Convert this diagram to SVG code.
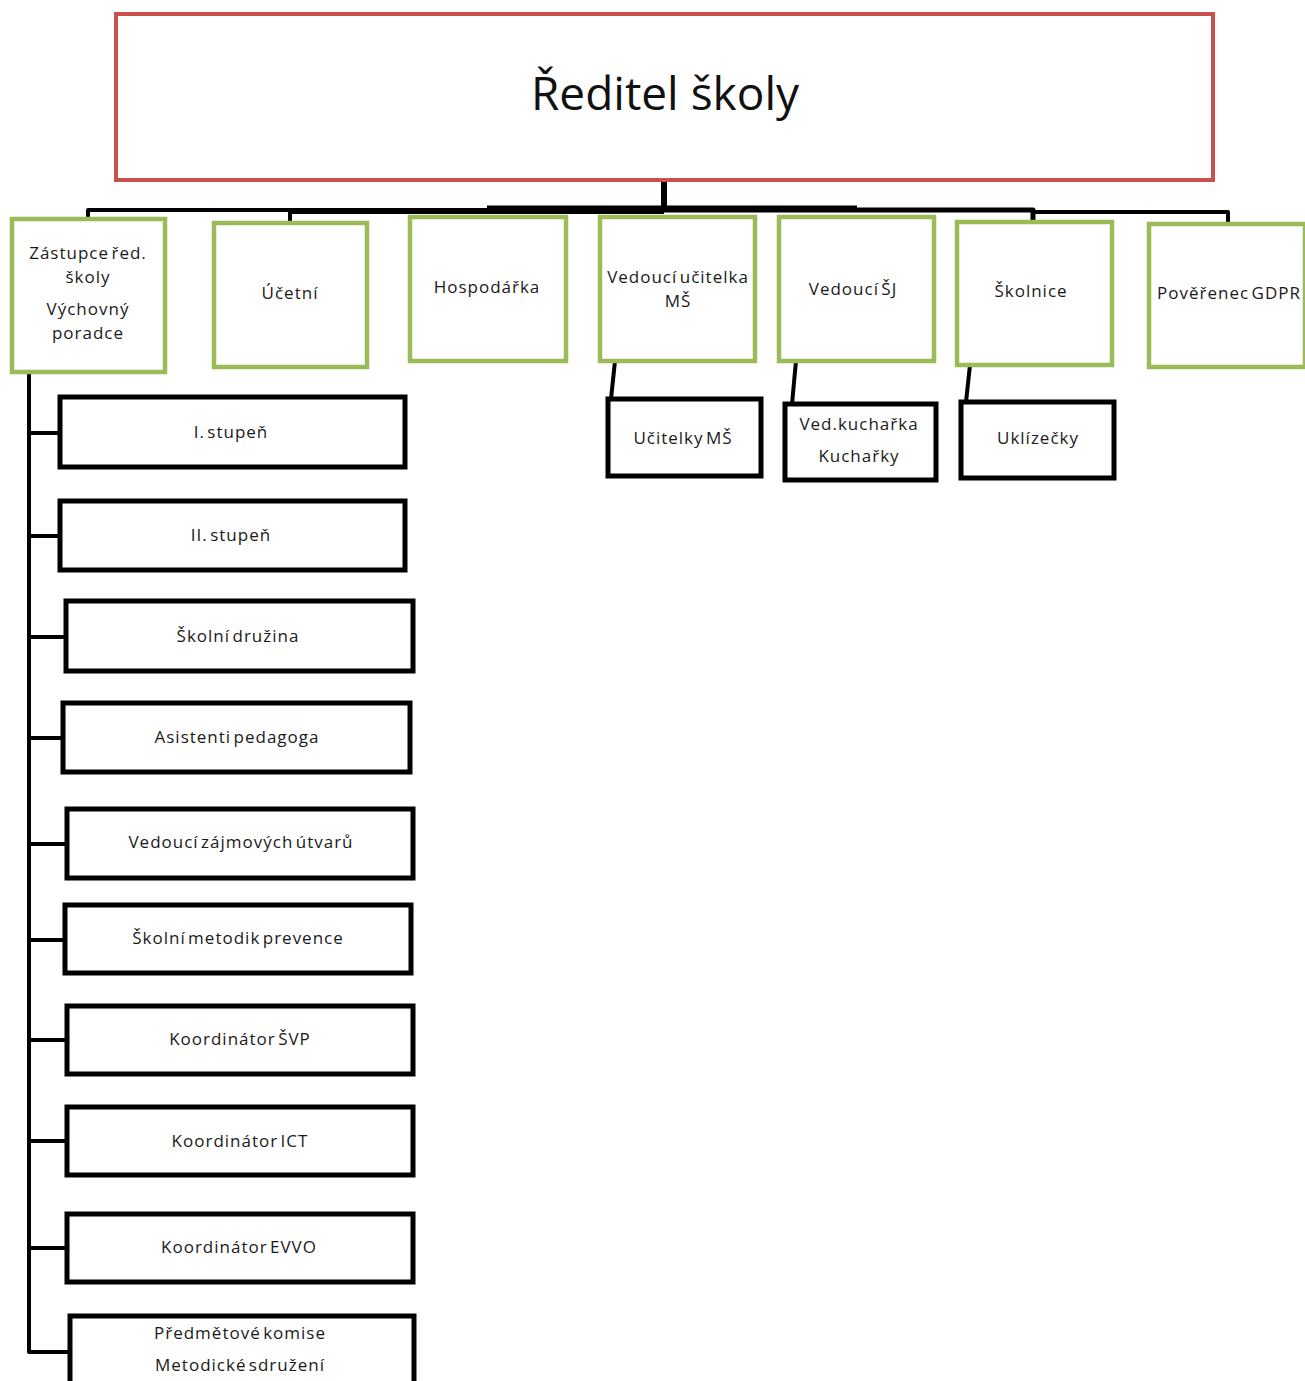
<svg xmlns="http://www.w3.org/2000/svg" width="1305" height="1381" viewBox="0 0 1305 1381">
<style>
  .t { font-family: "Open Sans", "Noto Sans", sans-serif; fill: #1a1a1a; text-anchor: middle; }
  .s { font-size: 17px; letter-spacing: 1px; word-spacing: -3px; }
  .title { font-size: 46px; fill: #111; }
  .red { fill: #fff; stroke: #c9504d; stroke-width: 4; }
  .green { fill: #fff; stroke: #9bbb59; stroke-width: 4.5; }
  .black { fill: #fff; stroke: #000; stroke-width: 5; }
  .ln { fill: none; stroke: #000; stroke-linejoin: round; }
</style>
<rect width="1305" height="1381" fill="#fff"/>
<g id="connectors">
  <path class="ln" stroke-width="6" d="M664 180 V210"/>
  <path class="ln" stroke-width="4" d="M88 218 V210 H290 V223"/>
  <path class="ln" stroke-width="6" d="M290 211 H664"/>
  <path class="ln" stroke-width="7" d="M487 209 H664 H857"/>
  <path class="ln" stroke-width="5" d="M857 210 H1033 V222"/>
  <path class="ln" stroke-width="4" d="M1033 212 H1228 V224"/>
  <path class="ln" stroke-width="4" d="M615 361 L611 399"/>
  <path class="ln" stroke-width="4" d="M796 361 L792 404"/>
  <path class="ln" stroke-width="4" d="M970 365 L966 402"/>
  <path class="ln" stroke-width="4" d="M29 372 V1352 H70"/>
  <path class="ln" stroke-width="4" d="M29 433 H60 M29 536 H60 M29 637 H66 M29 738 H63 M29 844 H67 M29 940 H65 M29 1040 H67 M29 1141 H67 M29 1248 H67"/>
</g>
<g id="reditel">
  <rect class="red" x="116" y="14" width="1097" height="166"/>
  <text class="t title" x="665" y="110">Ředitel školy</text>
</g>
<g id="zastupce">
  <rect class="green" x="12" y="219" width="153" height="153"/>
  <text class="t s" x="88" y="259">Zástupce řed.</text>
  <text class="t s" x="88" y="283">školy</text>
  <text class="t s" x="88" y="315">Výchovný</text>
  <text class="t s" x="88" y="339">poradce</text>
</g>
<g id="ucetni">
  <rect class="green" x="214" y="223" width="153" height="144"/>
  <text class="t s" x="290" y="299">Účetní</text>
</g>
<g id="hospodarka">
  <rect class="green" x="410" y="217" width="156" height="144"/>
  <text class="t s" x="487" y="293">Hospodářka</text>
</g>
<g id="vedouci-ucitelka">
  <rect class="green" x="600" y="217" width="155" height="144"/>
  <text class="t s" x="678" y="283">Vedoucí učitelka</text>
  <text class="t s" x="678" y="307">MŠ</text>
</g>
<g id="vedouci-sj">
  <rect class="green" x="779" y="217" width="155" height="144"/>
  <text class="t s" x="853" y="295">Vedoucí ŠJ</text>
</g>
<g id="skolnice">
  <rect class="green" x="957" y="222" width="155" height="143"/>
  <text class="t s" x="1031" y="297">Školnice</text>
</g>
<g id="gdpr">
  <rect class="green" x="1149" y="224" width="156" height="143"/>
  <text class="t s" x="1229" y="299">Pověřenec GDPR</text>
</g>
<g id="ucitelky-ms">
  <rect class="black" x="608" y="399" width="153" height="77"/>
  <text class="t s" x="683" y="444">Učitelky MŠ</text>
</g>
<g id="kucharky">
  <rect class="black" x="785" y="404" width="151" height="76"/>
  <text class="t s" x="859" y="430">Ved.kuchařka</text>
  <text class="t s" x="859" y="462">Kuchařky</text>
</g>
<g id="uklizecky">
  <rect class="black" x="961" y="402" width="153" height="76"/>
  <text class="t s" x="1038" y="444">Uklízečky</text>
</g>
<g id="stupen1">
  <rect class="black" x="60" y="397" width="345" height="70"/>
  <text class="t s" x="231" y="438">I. stupeň</text>
</g>
<g id="stupen2">
  <rect class="black" x="60" y="501" width="345" height="69"/>
  <text class="t s" x="231" y="541">II. stupeň</text>
</g>
<g id="druzina">
  <rect class="black" x="66" y="601" width="347" height="70"/>
  <text class="t s" x="238" y="642">Školní družina</text>
</g>
<g id="asistenti">
  <rect class="black" x="63" y="703" width="347" height="69"/>
  <text class="t s" x="237" y="743">Asistenti pedagoga</text>
</g>
<g id="zajmove">
  <rect class="black" x="67" y="809" width="346" height="69"/>
  <text class="t s" x="241" y="848">Vedoucí zájmových útvarů</text>
</g>
<g id="metodik">
  <rect class="black" x="65" y="905" width="346" height="68"/>
  <text class="t s" x="238" y="944">Školní metodik prevence</text>
</g>
<g id="svp">
  <rect class="black" x="67" y="1006" width="346" height="68"/>
  <text class="t s" x="240" y="1045">Koordinátor ŠVP</text>
</g>
<g id="ict">
  <rect class="black" x="67" y="1107" width="346" height="68"/>
  <text class="t s" x="240" y="1147">Koordinátor ICT</text>
</g>
<g id="evvo">
  <rect class="black" x="67" y="1214" width="346" height="68"/>
  <text class="t s" x="239" y="1253">Koordinátor EVVO</text>
</g>
<g id="komise">
  <rect class="black" x="70" y="1316" width="344" height="80"/>
  <text class="t s" x="240" y="1339">Předmětové komise</text>
  <text class="t s" x="240" y="1371">Metodické sdružení</text>
</g>
</svg>
